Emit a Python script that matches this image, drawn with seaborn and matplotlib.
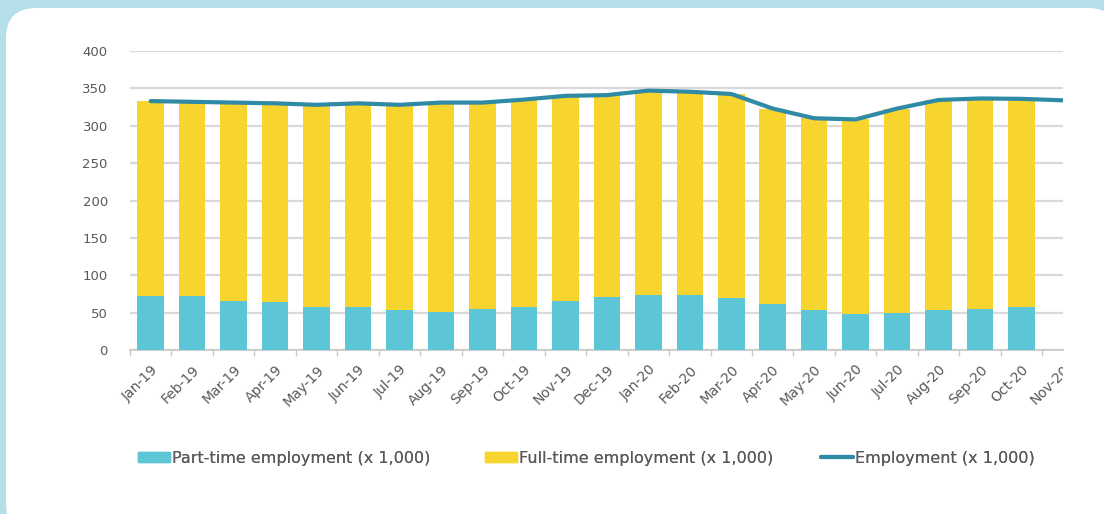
import numpy as np
import pandas as pd
import matplotlib
matplotlib.use("Agg")
import matplotlib.pyplot as plt
import matplotlib.patches as mpatches
from matplotlib.transforms import Bbox, IdentityTransform
from matplotlib.lines import Line2D
import seaborn as sns

# Monthly labour market figures (thousands)
months = ["Jan-19", "Feb-19", "Mar-19", "Apr-19", "May-19", "Jun-19", "Jul-19",
          "Aug-19", "Sep-19", "Oct-19", "Nov-19", "Dec-19", "Jan-20", "Feb-20",
          "Mar-20", "Apr-20", "May-20", "Jun-20", "Jul-20", "Aug-20", "Sep-20",
          "Oct-20", "Nov-20"]
part_time = [72.5, 72.5, 66, 64.5, 58, 57, 53.5, 51, 54.5, 58, 65.5, 70.5,
             73, 73, 69, 61.5, 53.5, 48, 49.5, 53, 54.5, 58]
full_time = [260.5, 259.5, 265, 265.5, 270, 273, 274.5, 280, 276.5, 277, 274.5,
             270.5, 274, 272.5, 273.5, 261.5, 256.5, 260.5, 273.5, 281.5, 282,
             278]
employment = [333, 332, 331, 330, 328, 330, 328, 331, 331, 335, 340, 341,
              347, 345.5, 342.5, 323, 310, 308.5, 323, 334.5, 336.5, 336, 334]
y_ticks = [0, 50, 100, 150, 200, 250, 300, 350, 400]
legend_labels = ["Part-time employment (x 1,000)",
                 "Full-time employment (x 1,000)",
                 "Employment (x 1,000)"]

CYAN = "#5CC6D6"
YELLOW = "#F8D42E"
LINE = "#2F8AA6"
GRID = "#D9D9D9"
TEXT = "#595959"
FRAME = "#B4DEE8"

sns.set_theme(style="white")
plt.rcParams["font.family"] = ["DejaVu Sans"]

W, H = 1104, 514
fig = plt.figure(figsize=(W / 100, H / 100), dpi=100, facecolor=FRAME)

# White rounded card behind the chart
card = mpatches.FancyBboxPatch((6, -20), 1112, 526,
                               boxstyle="round,pad=0,rounding_size=30",
                               transform=IdentityTransform(),
                               facecolor="white", edgecolor="none", zorder=-10)
fig.patches.append(card)

ax = fig.add_axes([130 / W, (H - 350) / H, 933 / W, 299 / H])
ax.set_facecolor("none")
ax.set_zorder(1)

n_bars = len(part_time)
bars = pd.DataFrame({
    "month": months[:n_bars],
    "part": part_time,
    "total": np.array(part_time) + np.array(full_time),
})

sns.barplot(data=bars, x="month", y="total", order=months, color=YELLOW,
            width=0.64, errorbar=None, saturation=1, linewidth=0, ax=ax,
            zorder=2)
sns.barplot(data=bars, x="month", y="part", order=months, color=CYAN,
            width=0.64, errorbar=None, saturation=1, linewidth=0, ax=ax,
            zorder=3)
sns.lineplot(x=np.arange(len(employment)), y=employment, color=LINE,
             linewidth=3, ax=ax, zorder=4, legend=False)

ax.set_xlim(-0.5, 21.54)
ax.set_ylim(0, 400)
ax.set_yticks(y_ticks)
ax.set_xlabel("")
ax.set_ylabel("")

ax.yaxis.grid(True, color=GRID, linewidth=1.6, zorder=0)
ax.set_axisbelow(True)
for side in ["top", "right", "left"]:
    ax.spines[side].set_visible(False)
ax.spines["bottom"].set_color("#C8C8C8")
ax.spines["bottom"].set_linewidth(1.2)

ax.set_xticks(np.arange(len(months)))
ax.set_xticklabels(months, rotation=45, ha="right", rotation_mode="anchor",
                   fontsize=10, color=TEXT)
ax.set_xticks(np.arange(len(months)) - 0.5, minor=True)
ax.tick_params(axis="x", which="major", length=0, pad=9)
ax.tick_params(axis="x", which="minor", bottom=True, length=4, width=1,
               color="#C8C8C8")
ax.tick_params(axis="y", length=0, pad=16, labelsize=9.5, labelcolor=TEXT)

# Labels running past the plot edge are cut off with it
clip = Bbox([[0, 0], [1063, H]])
for lab in ax.get_xticklabels():
    lab.set_clip_box(clip)
    lab.set_clip_on(True)

handles = [
    mpatches.Patch(color=CYAN, label=legend_labels[0]),
    mpatches.Patch(color=YELLOW, label=legend_labels[1]),
    Line2D([], [], color=LINE, linewidth=3, label=legend_labels[2]),
]
# One legend entry per key, laid out along the bottom of the card
starts = [138, 485, 821]
for handle, x0 in zip(handles, starts):
    leg = fig.legend(handles=[handle], loc="center left",
                     bbox_to_anchor=(x0 / W, (H - 458) / H),
                     frameon=False, fontsize=11.5, labelcolor=TEXT,
                     handlelength=2.0, handleheight=0.65, handletextpad=0.15,
                     borderpad=0, borderaxespad=0)
    fig.add_artist(leg)

fig.savefig("out.png", dpi=100, facecolor=FRAME)
